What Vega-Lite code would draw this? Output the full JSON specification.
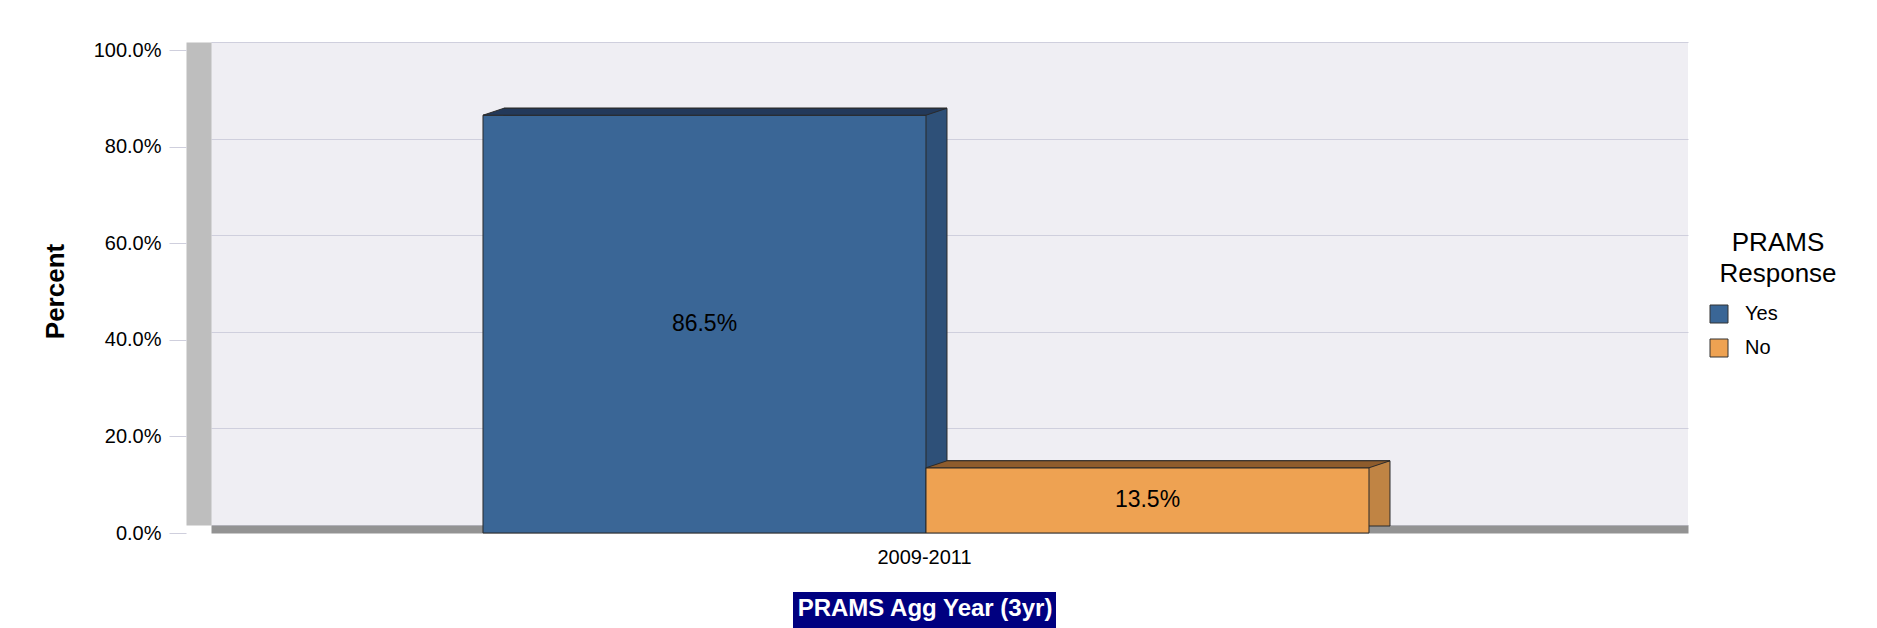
{
  "$schema": "https://vega.github.io/schema/vega-lite/v6.json",
  "width": 1477,
  "height": 483,
  "autosize": {"type": "none"},
  "padding": {"left": 211, "top": 42, "right": 189, "bottom": 103},
  "background": "white",
  "config": {
    "font": "Liberation Sans",
    "view": {"fill": "#EFEEF3", "stroke": null}
  },
  "data": {
    "values": [
      {"year": "2009-2011", "response": "Yes", "percent": 0.865},
      {"year": "2009-2011", "response": "No", "percent": 0.135}
    ]
  },
  "layer": [
    {
      "mark": {"type": "bar", "yOffset": 1, "y2Offset": 1, "stroke": "#2a2a2a", "strokeWidth": 1},
      "encoding": {
        "x": {
          "field": "year", "type": "nominal",
          "scale": {"paddingInner": 0, "paddingOuter": 0.3335},
          "axis": {"orient": "bottom", "title": null, "domain": true, "domainColor": "#939393", "domainWidth": 8, "offset": 4, "ticks": false, "tickSize": 0, "labelFontSize": 20, "labelColor": "#000000", "labelPadding": 18, "labelOffset": -25, "labelAngle": 0, "grid": false, "zindex": 0}
        },
        "xOffset": {"field": "response", "type": "nominal", "sort": ["Yes", "No"], "scale": {"paddingInner": 0, "paddingOuter": 0, "range": [-2.5, 883.5]}},
        "y": {
          "field": "percent", "type": "quantitative", "stack": null,
          "scale": {"domain": [0, 1], "nice": false},
          "axis": {"orient": "left", "values": [0, 0.2, 0.4, 0.6, 0.8, 1], "grid": true, "gridColor": "#CFCFDD", "gridWidth": 1, "ticks": false, "labels": false, "domain": true, "domainColor": "#BEBEBE", "domainWidth": 25, "offset": 12.5, "title": null, "zindex": 0}
        },
        "y2": {"datum": 0},
        "fill": {"condition": {"test": "datum.response === 'Yes'", "value": "#2E5078"}, "value": "#C08444"}
      }
    },
    {
      "mark": {"type": "bar", "yOffset": 8, "y2Offset": 8, "stroke": "#2a2a2a", "strokeWidth": 1},
      "encoding": {
        "x": {"field": "year", "type": "nominal", "axis": null},
        "xOffset": {"field": "response", "type": "nominal", "sort": ["Yes", "No"], "scale": {"paddingInner": 0, "paddingOuter": 0, "range": [-23.5, 862.5]}},
        "y": {
          "field": "percent", "type": "quantitative", "stack": null,
          "axis": {"orient": "left", "values": [0, 0.2, 0.4, 0.6, 0.8, 1], "format": ".1%", "grid": false, "domain": false, "ticks": true, "tickSize": 17, "tickColor": "#CFCFDD", "tickOffset": 8, "offset": 25, "labelFontSize": 20, "labelColor": "#000000", "labelPadding": 8, "title": "Percent", "titleFontSize": 26, "titleFontWeight": "bold", "titleColor": "#000000", "titlePadding": 25, "titleY": 249}
        },
        "y2": {"datum": 0},
        "color": {
          "field": "response", "type": "nominal", "sort": ["Yes", "No"],
          "scale": {"domain": ["Yes", "No"], "range": ["#3A6696", "#EEA252"]},
          "legend": {"title": ["PRAMS", "Response"], "orient": "none", "legendX": 1498, "legendY": 188, "padding": 0, "titleFontSize": 26, "titleFontWeight": "normal", "titleColor": "#000000", "titleAlign": "center", "titleAnchor": "end", "titleLineHeight": 31, "titlePadding": 17, "labelFontSize": 20, "labelColor": "#000000", "symbolType": "square", "symbolSize": 324, "symbolStrokeColor": "#333333", "symbolStrokeWidth": 1, "symbolOpacity": 1, "rowPadding": 12, "labelOffset": 16}
        }
      }
    },
    {
      "mark": {"type": "point", "shape": "M-1,0L1,0L1.0948,-0.0316L-0.9052,-0.0316Z", "size": 196249, "filled": true, "opacity": 1, "yOffset": 8, "stroke": "#2a2a2a", "strokeWidth": 1},
      "encoding": {
        "x": {"field": "year", "type": "nominal", "axis": null},
        "xOffset": {"field": "response", "type": "nominal", "sort": ["Yes", "No"], "scale": {"type": "point", "padding": 0, "range": [198, 641]}},
        "y": {"field": "percent", "type": "quantitative", "stack": null, "axis": null},
        "fill": {"condition": {"test": "datum.response === 'Yes'", "value": "#23395A"}, "value": "#8E5C2C"}
      }
    },
    {
      "transform": [{"calculate": "datum.percent / 2", "as": "mid"}],
      "mark": {"type": "text", "fontSize": 23, "color": "#000000", "yOffset": 8, "baseline": "middle", "align": "center"},
      "encoding": {
        "x": {"field": "year", "type": "nominal", "axis": null},
        "xOffset": {"field": "response", "type": "nominal", "sort": ["Yes", "No"], "scale": {"type": "point", "padding": 0, "range": [198, 641]}},
        "y": {"field": "mid", "type": "quantitative", "axis": null},
        "text": {"field": "percent", "type": "quantitative", "format": ".1%"}
      }
    },
    {
      "transform": [{"filter": "datum.response === 'Yes'"}],
      "mark": {"type": "bar", "width": 263, "xOffset": -25, "yOffset": 67, "y2Offset": 115, "fill": "#000080"},
      "encoding": {
        "x": {
          "field": "year", "type": "nominal",
          "axis": {"orient": "bottom", "title": "PRAMS Agg Year (3yr)", "labels": false, "ticks": false, "domain": false, "grid": false, "zindex": 1, "titleColor": "#FFFFFF", "titleFontSize": 24, "titleFontWeight": "bold", "titleX": 713.5, "titleY": 83, "titleBaseline": "middle", "titleAlign": "center"}
        },
        "y": {"datum": 0, "type": "quantitative", "axis": null},
        "y2": {"datum": 0}
      }
    }
  ],
  "resolve": {"scale": {"xOffset": "independent"}, "axis": {"x": "independent", "y": "independent"}}
}
